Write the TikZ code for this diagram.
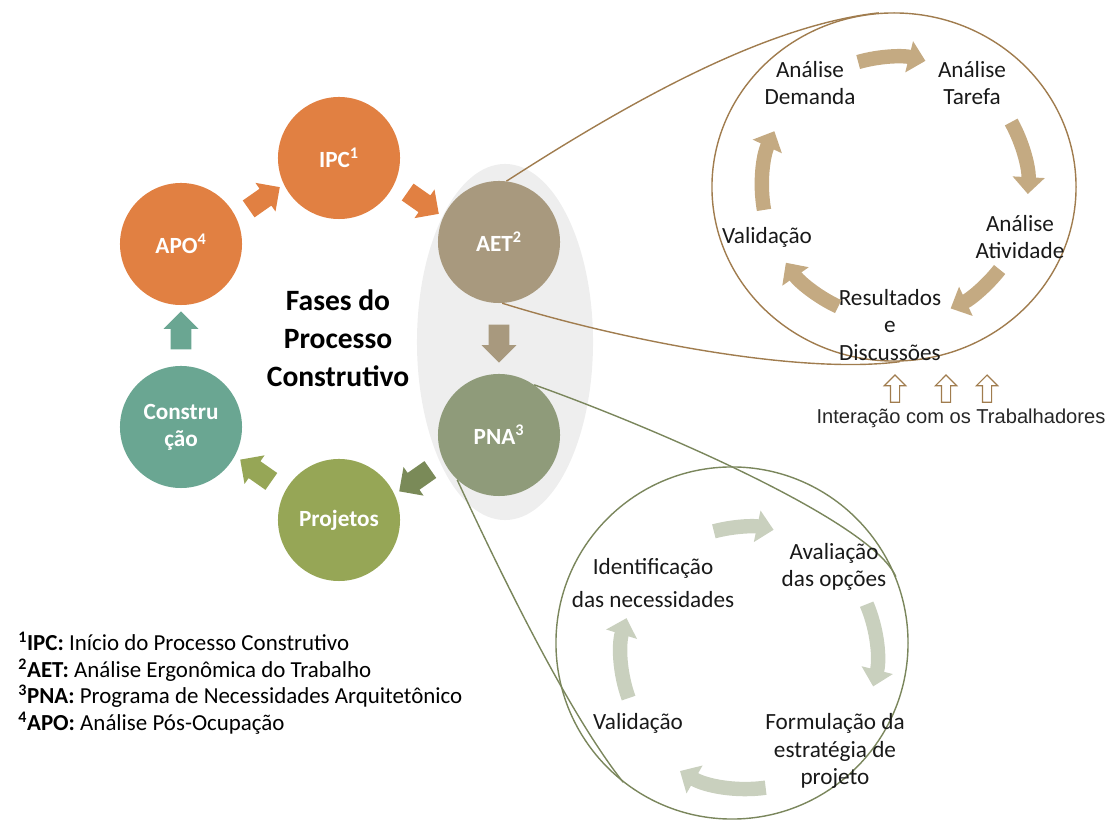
\documentclass[tikz,border=0pt]{standalone}
\usepackage{fontspec}
\setmainfont{Carlito}
\newfontfamily\arialfont{Liberation Sans}
\usetikzlibrary{shapes, arrows, arrows.meta, calc}
\definecolor{orangeph}{RGB}{225,128,66}
\definecolor{aetcol}{RGB}{168,153,126}
\definecolor{pnacol}{RGB}{143,155,122}
\definecolor{projcol}{RGB}{150,166,86}
\definecolor{constcol}{RGB}{106,166,146}
\definecolor{arrpna}{RGB}{122,138,88}
\definecolor{brownline}{RGB}{160,124,78}
\definecolor{greenline}{RGB}{122,134,92}
\definecolor{brownarr}{RGB}{196,170,130}
\definecolor{greenarr}{RGB}{201,208,190}
\tikzstyle{phase} = [circle, minimum size=3.05cm, inner sep=0pt, text=white,
    align=center, font=\fontsize{16.5}{19}\selectfont\bfseries]
\tikzstyle{blockarr} = [single arrow, inner sep=0.25cm, single arrow head extend=0.18cm,
    minimum height=0.95cm]
\tikzstyle{stage} = [align=center, text=black!90, font=\fontsize{16.5}{19.5}\selectfont]
\tikzstyle{cycarr} = [line width=0.36cm, -{Triangle[width=0.78cm,length=0.42cm]}]
\tikzstyle{zoomline} = [line width=0.035cm]
\tikzstyle{legend} = [anchor=base west, inner sep=0pt, font=\fontsize{16.3}{19}\selectfont]

\begin{document}
\begin{tikzpicture}[x=0.025cm, y=0.025cm]
\useasboundingbox (0,0) rectangle (1107,823);
% group AET + PNA
\node[ellipse, fill=gray!13, minimum width=4.4cm, minimum height=8.9cm] (grp) at (505,481) {};
% phases
\node[phase, fill=orangeph] (ipc) at (339,665) {IPC\textsuperscript{1}};
\node[phase, fill=aetcol] (aet) at (499,581) {AET\textsuperscript{2}};
\node[phase, fill=pnacol] (pna) at (499,388) {PNA\textsuperscript{3}};
\node[phase, fill=projcol] (proj) at (339,303) {Projetos};
\node[phase, fill=constcol] (const) at (181,396) {Constru\\ção};
\node[phase, fill=orangeph] (apo) at (181,579) {APO\textsuperscript{4}};
\node[align=center, font=\fontsize{21}{27}\selectfont\bfseries] (title) at (338,485) {Fases do\\Processo\\Construtivo};
\node[blockarr, fill=orangeph, rotate=35] (a_ipc) at ($(apo)!0.5!(ipc)$) {};
\node[blockarr, fill=orangeph, rotate=-35] (a_aet) at ($(ipc)!0.5!(aet)$) {};
\node[blockarr, fill=aetcol, rotate=-90] (a_pna) at ($(aet)!0.5!(pna)$) {};
\node[blockarr, fill=arrpna, rotate=-145] (a_proj) at ($(pna)!0.5!(proj)$) {};
\node[blockarr, fill=projcol, rotate=145] (a_const) at ($(proj)!0.5!(const)$) {};
\node[blockarr, fill=constcol, rotate=90] (a_apo) at ($(const)!0.5!(apo)$) {};

% detail of AET
\node[ellipse, draw=brownline, zoomline, minimum width=9.1cm, minimum height=8.7cm] (det_aet) at (894,636) {};
\draw[zoomline, brownline] (aet.83) .. controls (640,728) and (770,798) .. (det_aet.95);
\draw[zoomline, brownline] (aet.-87) .. controls (620,483) and (800,448) .. (det_aet.-88);
\node[stage] (dem) at (810,740) {Análise\\Demanda};
\node[stage] (tar) at (972,740) {Análise\\Tarefa};
\node[stage] (atv) at (1020,586) {Análise\\Atividade};
\node[stage] (res) at (890,498) {Resultados\\e\\Discussões};
\node[stage] (val) at (767,586) {Validação};
\draw[cycarr, brownarr] ($(det_aet)+(106:130)$) arc (106:76:130);
\draw[cycarr, brownarr] ($(det_aet)+(29:134)$) arc (29:-3:134);
\draw[cycarr, brownarr] ($(det_aet)+(-38:134)$) arc (-38:-65:134);
\draw[cycarr, brownarr] ($(det_aet)+(-115:132)$) arc (-115:-145:132);
\draw[cycarr, brownarr] ($(det_aet)+(190:132)$) arc (190:155:132);
\foreach \x [count=\i] in {895,946,987}
  \node[single arrow, draw=brownline, fill=white, line width=0.03cm, rotate=90, inner sep=0.1cm,
        single arrow head extend=0.15cm, minimum height=0.68cm] (up\i) at (\x,432) {};
\node[font=\arialfont\fontsize{14.3}{16}\selectfont, text=black!85] (inter) at (961,405) {Interação com os Trabalhadores};

% detail of PNA
\node[circle, draw=greenline, zoomline, minimum size=8.8cm] (det_pna) at (732,180) {};
\coordinate (cyc_pna) at ($(det_pna)+(15,-12)$);
\draw[zoomline, greenline] (pna.55) .. controls (650,397) and (872,302) .. (det_pna.22);
\draw[zoomline, greenline] (pna.-133) .. controls (505,240) and (570,108) .. (det_pna.-128);
\node[stage, font=\fontsize{16.5}{24}\selectfont] (idn) at (653,240) {Identificação\\das necessidades};
\node[stage] (ava) at (834,256) {Avaliação\\das opções};
\node[stage] (frm) at (835,72) {Formulação da\\estratégia de\\projeto};
\node[stage] (vld) at (638,100) {Validação};
\draw[cycarr, greenarr] ($(cyc_pna)+(105:128)$) arc (105:78:128);
\draw[cycarr, greenarr] ($(cyc_pna)+(23:130)$) arc (23:-14:130);
\draw[cycarr, greenarr] ($(cyc_pna)+(-82:134)$) arc (-82:-120:134);
\draw[cycarr, greenarr] ($(cyc_pna)+(200:126)$) arc (200:163:126);

% legend
\node[legend] (leg1) at (18,172) {\textbf{\textsuperscript{1}IPC:} Início do Processo Construtivo};
\node[legend] (leg2) at (18,145) {\textbf{\textsuperscript{2}AET:} Análise Ergonômica do Trabalho};
\node[legend] (leg3) at (18,119) {\textbf{\textsuperscript{3}PNA:} Programa de Necessidades Arquitetônico};
\node[legend] (leg4) at (18,92) {\textbf{\textsuperscript{4}APO:} Análise Pós-Ocupação};
\end{tikzpicture}
\end{document}
